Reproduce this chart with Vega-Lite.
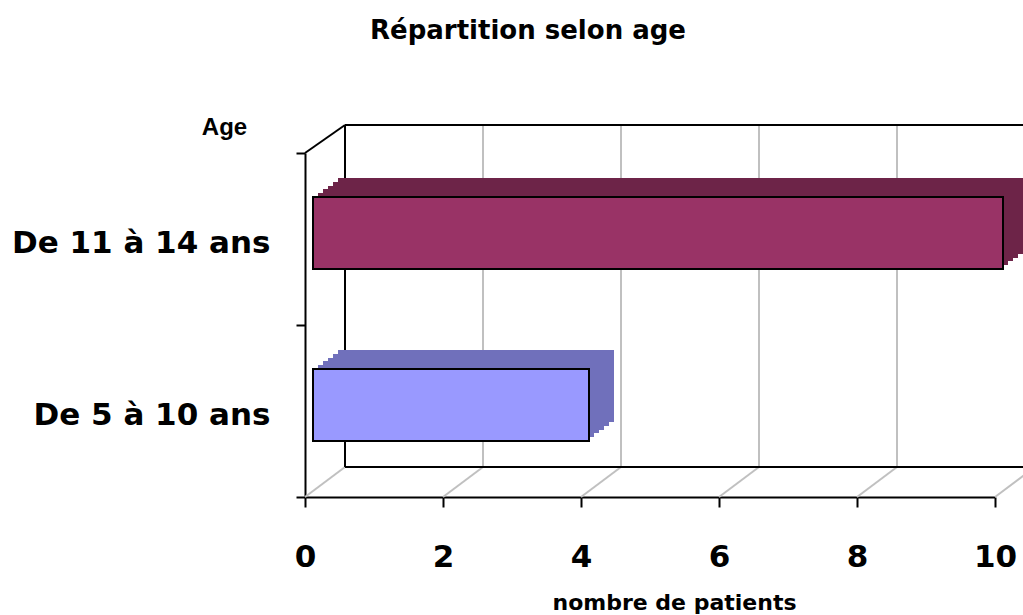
{
  "$schema": "https://vega.github.io/schema/vega-lite/v6.json",
  "width": 690,
  "height": 344,
  "autosize": {"type": "none"},
  "padding": {"left": 305, "top": 153, "right": 28, "bottom": 118},
  "background": "white",
  "config": {
    "view": {"stroke": null},
    "font": "Liberation Sans",
    "axisX": {
      "domainColor": "black", "domainWidth": 2, "tickColor": "black", "tickWidth": 2, "tickSize": 10,
      "labelFont": "DejaVu Sans", "labelFontSize": 31, "labelFontWeight": "bold", "labelColor": "black",
      "labelPadding": 35, "labelFlush": false,
      "titleFont": "DejaVu Sans", "titleFontSize": 22, "titleFontWeight": "bold", "titleColor": "black",
      "titlePadding": 20, "titleX": 369, "grid": false
    },
    "axisY": {
      "domainColor": "black", "domainWidth": 2, "tickColor": "black", "tickWidth": 2, "tickSize": 9,
      "tickBand": "extent",
      "labelFont": "DejaVu Sans", "labelFontSize": 31, "labelFontWeight": "bold", "labelColor": "black",
      "labelPadding": 26, "labelOffset": 4, "labelLimit": 500,
      "titleFont": "Liberation Sans", "titleFontSize": 24, "titleFontWeight": "bold", "titleColor": "black",
      "titleAngle": 0, "titleX": -81, "titleY": -19, "titleAlign": "center", "titleBaseline": "alphabetic",
      "grid": false
    }
  },
  "title": {
    "text": "Répartition selon age",
    "font": "DejaVu Sans",
    "fontSize": 26,
    "fontWeight": "bold",
    "color": "black",
    "anchor": "middle",
    "frame": "group",
    "dx": -122,
    "offset": 71
  },
  "datasets": {
    "bars": [
      {"age": "De 11 à 14 ans", "n": 10},
      {"age": "De 5 à 10 ans", "n": 4}
    ],
    "ticks": [{"v": 0}, {"v": 2}, {"v": 4}, {"v": 6}, {"v": 8}, {"v": 10}]
  },
  "layer": [
    {
      "data": {"name": "ticks"},
      "transform": [{"filter": "datum.v > 0"}],
      "mark": {"type": "rule", "color": "#c0c0c0", "strokeWidth": 2, "xOffset": 40, "yOffset": -28, "y2Offset": -30},
      "encoding": {
        "x": {"field": "v", "type": "quantitative", "scale": {"domain": [0, 10], "nice": false}},
        "y": {"datum": "De 11 à 14 ans", "type": "nominal", "bandPosition": 0},
        "y2": {"datum": "De 5 à 10 ans", "bandPosition": 1}
      }
    },
    {
      "data": {"name": "ticks"},
      "mark": {"type": "rule", "color": "#c0c0c0", "strokeWidth": 2, "x2Offset": 40, "y2Offset": -30},
      "encoding": {
        "x": {"field": "v", "type": "quantitative"},
        "x2": {"field": "v"},
        "y": {"datum": "De 5 à 10 ans", "type": "nominal", "bandPosition": 1},
        "y2": {"datum": "De 5 à 10 ans", "bandPosition": 1}
      }
    },
    {
      "data": {"name": "ticks"},
      "transform": [{"filter": "datum.v == 0"}],
      "mark": {"type": "rule", "color": "black", "strokeWidth": 2, "xOffset": 40, "yOffset": -28, "y2Offset": -30},
      "encoding": {
        "x": {"field": "v", "type": "quantitative"},
        "y": {"datum": "De 11 à 14 ans", "type": "nominal", "bandPosition": 0},
        "y2": {"datum": "De 5 à 10 ans", "bandPosition": 1}
      }
    },
    {
      "data": {"name": "ticks"},
      "transform": [{"filter": "datum.v == 0"}],
      "mark": {"type": "rule", "color": "black", "strokeWidth": 2, "xOffset": 40, "x2Offset": 80, "yOffset": -28},
      "encoding": {
        "x": {"field": "v", "type": "quantitative"},
        "x2": {"datum": 10},
        "y": {"datum": "De 11 à 14 ans", "type": "nominal", "bandPosition": 0}
      }
    },
    {
      "data": {"name": "ticks"},
      "transform": [{"filter": "datum.v == 0"}],
      "mark": {"type": "rule", "color": "black", "strokeWidth": 2, "xOffset": 40, "x2Offset": 80, "yOffset": -30},
      "encoding": {
        "x": {"field": "v", "type": "quantitative"},
        "x2": {"datum": 10},
        "y": {"datum": "De 5 à 10 ans", "type": "nominal", "bandPosition": 1}
      }
    },
    {
      "data": {"name": "ticks"},
      "transform": [{"filter": "datum.v == 0"}],
      "mark": {"type": "rule", "color": "black", "strokeWidth": 2, "x2Offset": 40, "y2Offset": -28},
      "encoding": {
        "x": {"field": "v", "type": "quantitative"},
        "x2": {"field": "v"},
        "y": {"datum": "De 11 à 14 ans", "type": "nominal", "bandPosition": 0},
        "y2": {"datum": "De 11 à 14 ans", "bandPosition": 0}
      }
    },
    {
      "data": {"name": "bars"},
      "mark": {"type": "bar", "height": {"band": 0.42}, "xOffset": 13, "x2Offset": 13, "yOffset": -10},
      "encoding": {
        "y": {"field": "age", "type": "nominal"},
        "x": {"field": "n", "type": "quantitative", "stack": null},
        "x2": {"datum": 0},
        "color": {"condition": {"test": "datum.age === 'De 11 à 14 ans'", "value": "#6d2448"}, "value": "#7070bb"}
      }
    },
    {
      "data": {"name": "bars"},
      "mark": {"type": "bar", "height": {"band": 0.42}, "xOffset": 18, "x2Offset": 18, "yOffset": -14},
      "encoding": {
        "y": {"field": "age", "type": "nominal"},
        "x": {"field": "n", "type": "quantitative", "stack": null},
        "x2": {"datum": 0},
        "color": {"condition": {"test": "datum.age === 'De 11 à 14 ans'", "value": "#6d2448"}, "value": "#7070bb"}
      }
    },
    {
      "data": {"name": "bars"},
      "mark": {"type": "bar", "height": {"band": 0.42}, "xOffset": 23, "x2Offset": 23, "yOffset": -17},
      "encoding": {
        "y": {"field": "age", "type": "nominal"},
        "x": {"field": "n", "type": "quantitative", "stack": null},
        "x2": {"datum": 0},
        "color": {"condition": {"test": "datum.age === 'De 11 à 14 ans'", "value": "#6d2448"}, "value": "#7070bb"}
      }
    },
    {
      "data": {"name": "bars"},
      "mark": {"type": "bar", "height": {"band": 0.42}, "xOffset": 28, "x2Offset": 28, "yOffset": -21},
      "encoding": {
        "y": {"field": "age", "type": "nominal"},
        "x": {"field": "n", "type": "quantitative", "stack": null},
        "x2": {"datum": 0},
        "color": {"condition": {"test": "datum.age === 'De 11 à 14 ans'", "value": "#6d2448"}, "value": "#7070bb"}
      }
    },
    {
      "data": {"name": "bars"},
      "mark": {"type": "bar", "height": {"band": 0.42}, "xOffset": 33, "x2Offset": 33, "yOffset": -25},
      "encoding": {
        "y": {"field": "age", "type": "nominal"},
        "x": {"field": "n", "type": "quantitative", "stack": null},
        "x2": {"datum": 0},
        "color": {"condition": {"test": "datum.age === 'De 11 à 14 ans'", "value": "#6d2448"}, "value": "#7070bb"}
      }
    },
    {
      "data": {"name": "bars"},
      "mark": {"type": "bar", "height": {"band": 0.42}, "xOffset": 8, "x2Offset": 8, "yOffset": -6, "stroke": "black", "strokeWidth": 2, "opacity": 1},
      "encoding": {
        "y": {
          "field": "age", "type": "nominal", "title": "Age",
          "scale": {"domain": ["De 11 à 14 ans", "De 5 à 10 ans"], "paddingInner": 0, "paddingOuter": 0}
        },
        "x": {
          "field": "n", "type": "quantitative", "stack": null, "title": "nombre de patients",
          "axis": {"values": [0, 2, 4, 6, 8, 10], "format": "d"}
        },
        "x2": {"datum": 0},
        "color": {"condition": {"test": "datum.age === 'De 11 à 14 ans'", "value": "#993366"}, "value": "#9999ff"}
      }
    }
  ]
}
